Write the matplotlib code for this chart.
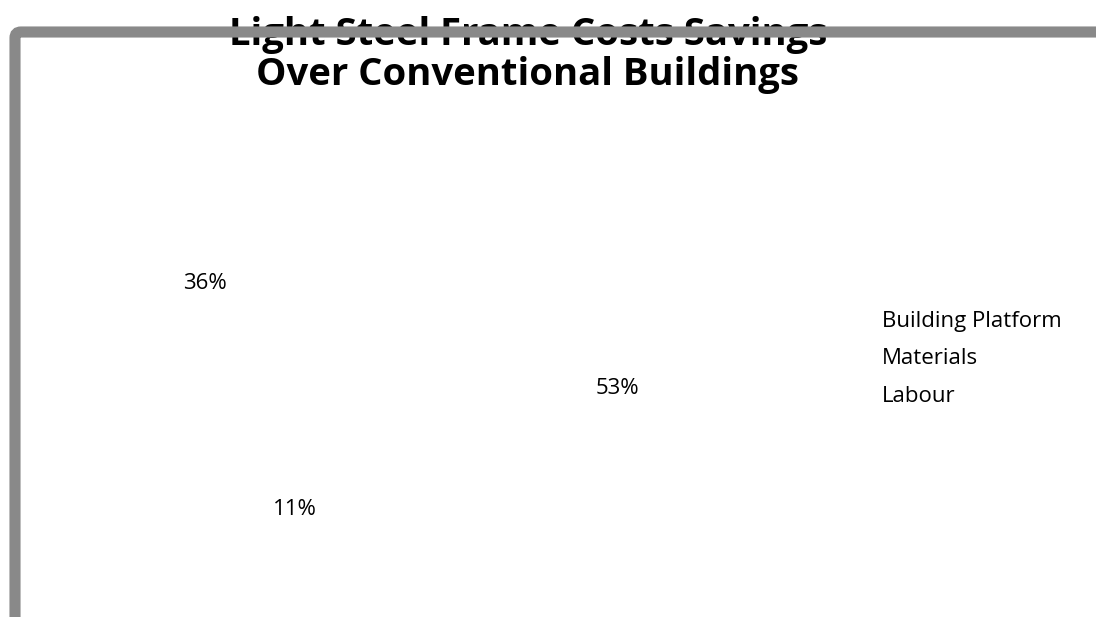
import matplotlib
matplotlib.use("Agg")
import matplotlib.pyplot as plt
from matplotlib.patches import FancyBboxPatch

# data
categories = ["Building Platform", "Materials", "Labour"]
savings = [53, 11, 36]
title = "Light Steel Frame Costs Savings\nOver Conventional Buildings"

# per-slice label distance (Excel "best fit" puts them at uneven radii)
label_dist = [1.19, 0.835, 0.97]

W, H, DPI = 1096, 617, 100
plt.rcParams["font.family"] = ["Open Sans", "DejaVu Sans"]

fig = plt.figure(figsize=(W / DPI, H / DPI), dpi=DPI)

# pie centre ~ (380, 366) px, radius 200 px
cx, cy, R = 380, 366, 200
ax = fig.add_axes([(cx - R) / W, 1 - (cy + R) / H, 2 * R / W, 2 * R / H])
wedges, texts, autotexts = ax.pie(
    savings, startangle=90, counterclock=False,
    colors=["white"] * len(savings),
    wedgeprops=dict(edgecolor="none", linewidth=0),
    autopct=lambda p: f"{p:.0f}%", pctdistance=1.0,
    textprops=dict(fontsize=16, color="#000000"))
for t, d in zip(autotexts, label_dist):
    x, y = t.get_position()
    t.set_position((x * d, y * d))
ax.set_xlim(-1, 1)
ax.set_ylim(-1, 1)
ax.set_aspect("auto")
ax.axis("off")

fig.legend(wedges, categories, loc="center left",
           bbox_to_anchor=(882 / W, 1 - 359 / H),
           frameon=False, fontsize=16, handlelength=0, handletextpad=0,
           borderpad=0, borderaxespad=0, labelspacing=0.74)

fig.text(528 / W, 1 - 55 / H, title, ha="center", va="center",
         fontsize=27.5, fontweight="bold", color="#000000", linespacing=1.06)

# chart-area border, cut off at the right and bottom edges of the picture
frame = FancyBboxPatch((15, -100), W + 200, H + 100 - 32,
                       boxstyle="round,pad=0,rounding_size=6",
                       transform=None, facecolor="none",
                       edgecolor="#898989", linewidth=8, zorder=10)
fig.patches.append(frame)

fig.savefig("out.png", dpi=DPI)
